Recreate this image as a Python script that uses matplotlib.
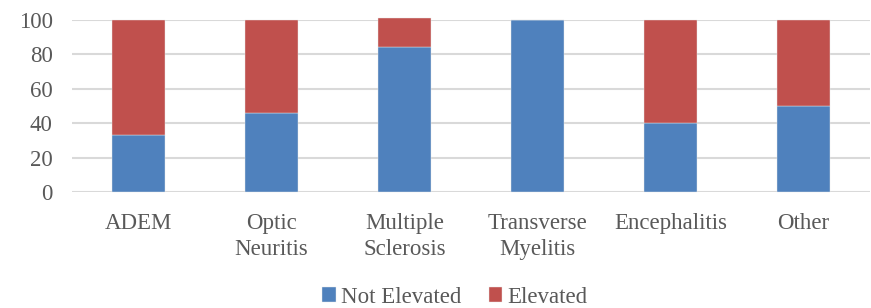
import matplotlib.pyplot as plt
import numpy as np

plt.rcParams['font.family'] = ['Liberation Serif', 'DejaVu Serif']

categories = ['ADEM', 'Optic\nNeuritis', 'Multiple\nSclerosis', 'Transverse\nMyelitis',
              'Encephalitis', 'Other']
not_elevated = [33, 46, 84, 100, 40, 50]
elevated = [67, 54, 17, 0, 60, 50]

blue = '#4f81bd'
red = '#c0504d'
txt = '#595959'
fs = 16.5

fig = plt.figure(figsize=(8.71, 3.08), dpi=100)
ax = fig.add_axes([0.0827, 0.3756, 0.9163, 0.5604])

x = np.arange(len(categories))
b1 = ax.bar(x, not_elevated, width=0.4, color=blue, label='Not Elevated',
            edgecolor='#e8e8e8', linewidth=0.3, zorder=3, clip_on=False)
b2 = ax.bar(x, elevated, width=0.4, bottom=not_elevated, color=red, label='Elevated',
            edgecolor='#e8e8e8', linewidth=0.3, zorder=3, clip_on=False)

ax.set_xlim(-0.5, len(categories) - 0.5)
ax.set_ylim(0, 100)
ax.set_yticks(range(0, 101, 20))
ax.yaxis.grid(True, color='#d9d9d9', linewidth=1.5, zorder=0)
ax.set_axisbelow(True)
for s in ax.spines.values():
    s.set_visible(False)
ax.tick_params(axis='both', length=0, labelsize=fs, colors=txt)
ax.tick_params(axis='y', pad=14)
ax.tick_params(axis='x', pad=15)
ax.set_xticks(x)
ax.set_xticklabels(categories, linespacing=1.3)

fig.legend(handles=[b1, b2], loc='center', bbox_to_anchor=(0.522, 0.035), ncol=2,
           frameon=False, fontsize=fs, labelcolor=txt, handlelength=0.6,
           handleheight=0.6, handletextpad=0.2, columnspacing=1.2)

fig.savefig('out.png', dpi=100)
